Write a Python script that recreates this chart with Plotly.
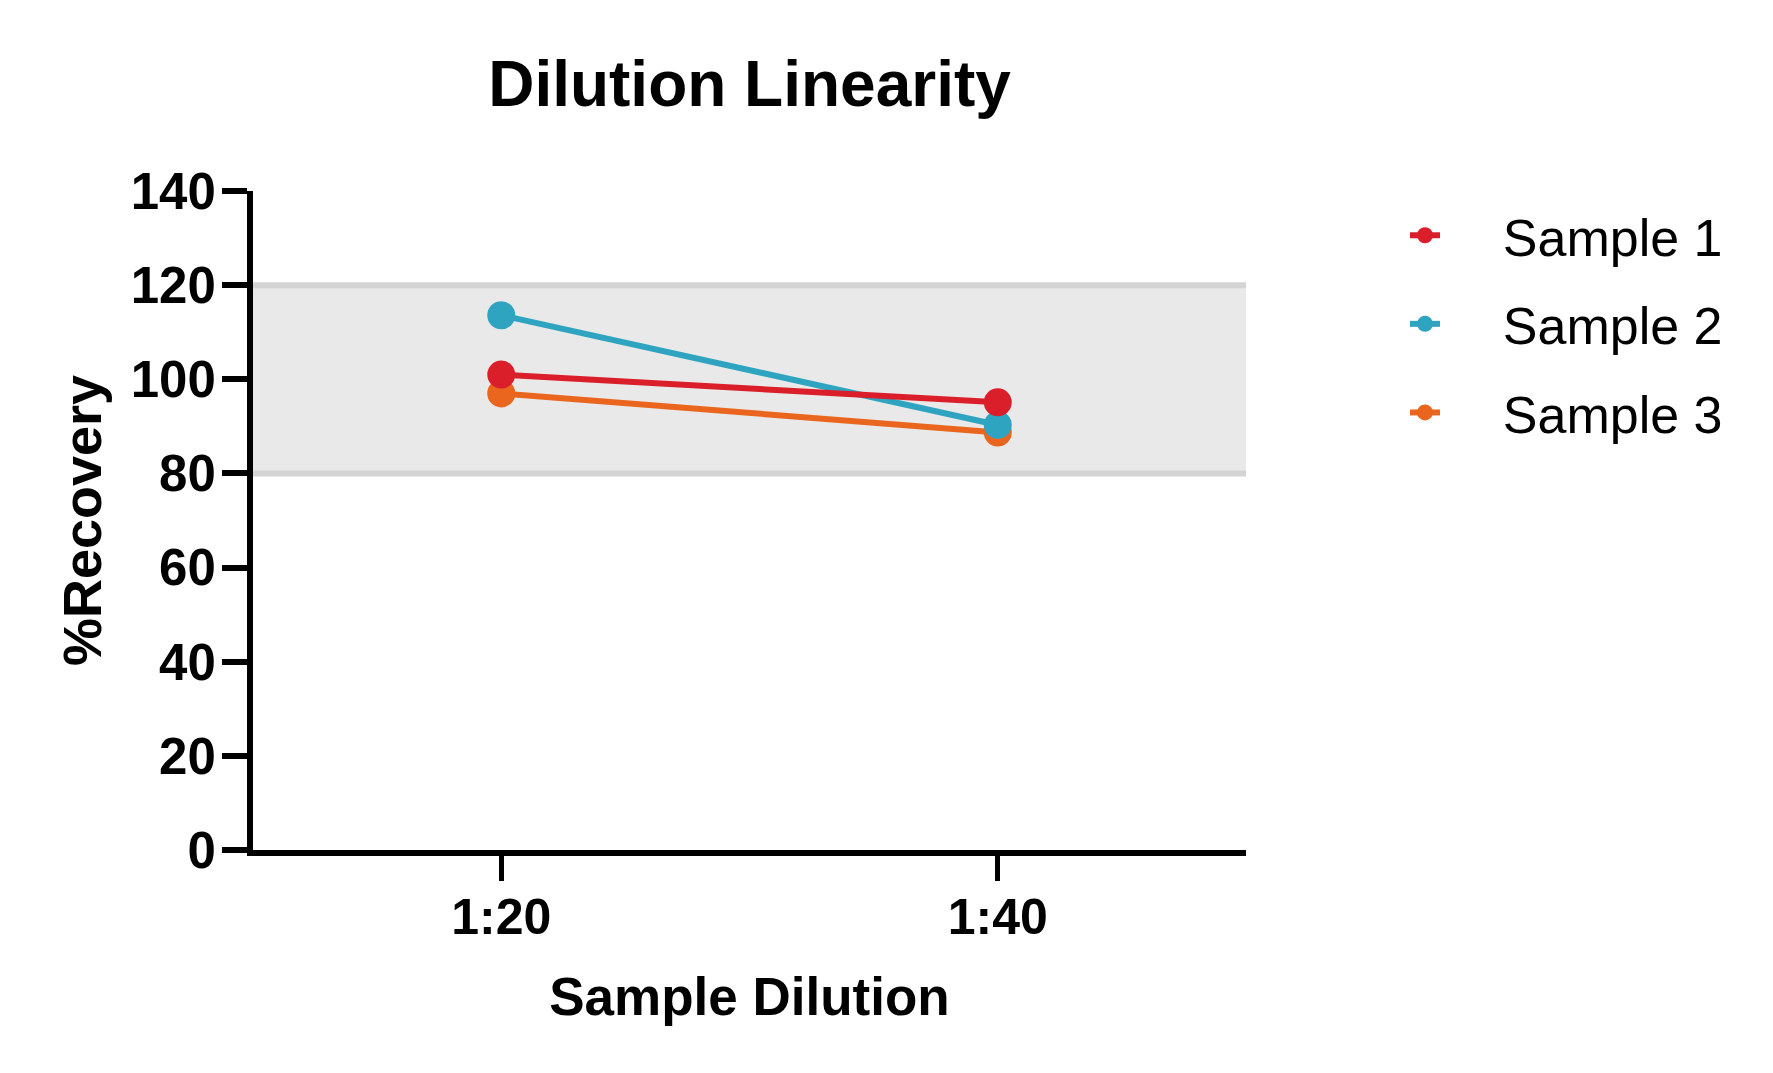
import plotly.graph_objects as go

# dilution levels and % recovery per sample
dilutions = ["1:20", "1:40"]
sample_1 = [101.0, 95.1]
sample_2 = [113.6, 90.3]
sample_3 = [97.0, 88.7]

samples = ["Sample 1", "Sample 2", "Sample 3"]
colors = ["#DA1F2B", "#2EA4C1", "#EA661E"]

# acceptance band
band_low = 80
band_high = 120
y_ticks = [0, 20, 40, 60, 80, 100, 120, 140]

FONT = "Arial, Liberation Sans, sans-serif"

fig = go.Figure()

# band drawn as shapes below the data
fig.add_shape(type="rect", xref="paper", x0=0, x1=1, yref="y", y0=band_low, y1=band_high,
              fillcolor="#E9E9E9", line_width=0, layer="below")
for yv in (band_low, band_high):
    fig.add_shape(type="line", xref="paper", x0=0, x1=1, yref="y", y0=yv, y1=yv,
                  line=dict(color="#D4D4D4", width=6), layer="below")

series = [sample_1, sample_2, sample_3]
# draw sample 3 first so sample 1 sits on top, as in the original
for i in [2, 1, 0]:
    fig.add_trace(go.Scatter(
        x=dilutions, y=series[i], name="\u00a0\u00a0\u00a0\u00a0" + samples[i],
        mode="lines+markers",
        line=dict(color=colors[i], width=6),
        marker=dict(color=colors[i], size=28),
        legendgroup=samples[i], legendrank=i + 1,
    ))

# page body has an 8px margin, so the figure is a bit smaller and shifted
fig.update_layout(
    width=1765, height=1065,
    paper_bgcolor="white", plot_bgcolor="white",
    margin=dict(l=245, r=527, t=183, b=223),
    font=dict(family=FONT, color="black"),
    title=dict(text="Dilution Linearity", x=0.5, xref="paper", xanchor="center",
               y=1 - 76 / 1065, yanchor="middle",
               font=dict(size=64, weight=700, family=FONT)),
    showlegend=True,
    legend=dict(x=(1397 - 245) / 993, xanchor="left", y=0.994, yanchor="top",
                font=dict(size=52, family=FONT), tracegroupgap=18,
                bgcolor="rgba(0,0,0,0)"),
)

fig.update_xaxes(
    type="category", range=[-0.5, 1.5],
    showline=True, linecolor="black", linewidth=6,
    ticks="outside", ticklen=25, tickwidth=5, tickcolor="black",
    tickfont=dict(size=50, weight=700, family=FONT), ticklabelstandoff=-7,
    showgrid=False, zeroline=False,
    title=dict(text="Sample Dilution", font=dict(size=53, weight=700, family=FONT), standoff=36),
)
fig.update_yaxes(
    range=[0, 140], tickvals=y_ticks,
    showline=True, linecolor="black", linewidth=6,
    ticks="outside", ticklen=25, tickwidth=6, tickcolor="black",
    tickfont=dict(size=51, weight=700, family=FONT), ticklabelstandoff=-4,
    showgrid=False, zeroline=False,
    title=dict(text="%Recovery", font=dict(size=54, weight=700, family=FONT), standoff=14),
)

fig.write_html("out.html")
